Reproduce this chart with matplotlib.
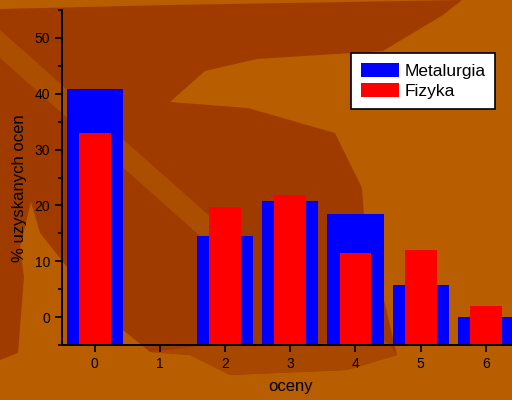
import numpy as np
import matplotlib
matplotlib.use("Agg")
import matplotlib.pyplot as plt
from matplotlib.patches import Polygon

# ---- data ----
grades = [0, 1, 2, 3, 4, 5, 6]
metalurgia = [40.9, np.nan, 14.5, 20.8, 18.4, 5.7, 0.0]
fizyka = [33.0, np.nan, 19.8, 21.8, 11.5, 12.1, 2.0]
y_ticks = [0, 10, 20, 30, 40, 50]
series_names = ["Metalurgia", "Fizyka"]

plt.rcParams['font.family'] = ['Liberation Sans', 'DejaVu Sans']

W, H = 512, 400
BG = "#B85E00"
DARK = "#A03B00"
BAND = "#AB4E00"
LOWDARK = "#A84700"

fig = plt.figure(figsize=(W / 100, H / 100), dpi=100)
fig.patch.set_facecolor(BG)

def px(pts):
    return [(x / W, 1 - y / H) for x, y in pts]

# decorative background shapes (pixel coordinates)
dark_shape = [(0, 9), (170, 5), (462, 0), (443, 15), (383, 51), (257, 59), (205, 71),
              (170, 102), (248, 108), (335, 133), (362, 188), (364, 215), (397, 355),
              (347, 370), (230, 375), (190, 355), (150, 352), (123, 330), (67, 267),
              (40, 233), (31, 202), (20, 247), (24, 277), (18, 353), (0, 360)]
low_shape = [(150, 352), (190, 355), (230, 375), (347, 370), (397, 355),
             (385, 340), (300, 345), (200, 346)]
band_shape = [(0, 30), (232, 236), (218, 252), (0, 58)]
for shape, col in [(dark_shape, DARK), (low_shape, LOWDARK), (band_shape, BAND)]:
    fig.patches.append(Polygon(px(shape), closed=True, transform=fig.transFigure,
                               facecolor=col, edgecolor='none', zorder=-5))

ax = fig.add_axes([62 / W, 1 - 345 / H, (W - 62) / W, (345 - 10) / H])
ax.patch.set_alpha(0)

ymin, ymax = -5, 55
x = np.array(grades, dtype=float)
m = np.array(metalurgia)
f = np.array(fizyka)
b1 = ax.bar(x, m - ymin, bottom=ymin, width=0.86, color="#0000FF", linewidth=0,
            label=series_names[0])
b2 = ax.bar(x, f - ymin, bottom=ymin, width=0.49, color="#FF0000", linewidth=0,
            label=series_names[1])

ax.set_xlim(-0.5, 6.4)
ax.set_ylim(ymin, ymax)
ax.set_xticks(grades)
ax.set_yticks(y_ticks)
ax.set_yticks(np.arange(-5, 56, 10), minor=True)
ax.tick_params(axis='both', which='major', direction='out', length=5, width=1.2,
               labelsize=10, color='black', pad=3.5)
ax.tick_params(axis='y', which='minor', direction='out', length=3, width=1.2)
ax.tick_params(axis='y', pad=3.5)
for s in ['top', 'right']:
    ax.spines[s].set_visible(False)
for s in ['left', 'bottom']:
    ax.spines[s].set_linewidth(1.4)
    ax.spines[s].set_color('black')

ax.set_xlabel("oceny", fontsize=12)
ax.set_ylabel("% uzyskanych ocen", fontsize=12)
ax.xaxis.set_label_coords(0.507, -0.10)
ax.yaxis.set_label_coords(-0.078, 0.469)

leg = fig.legend(handles=[b1, b2], labels=series_names, loc='upper left',
                 bbox_to_anchor=(351 / W, 1 - 53 / H), fontsize=12.5, frameon=True,
                 fancybox=False, shadow=False, framealpha=1, edgecolor='black',
                 handlelength=2.2, handleheight=0.9, handletextpad=0.35,
                 labelspacing=0.25, borderpad=0.55, borderaxespad=0)
leg.get_frame().set_linewidth(1.2)

fig.savefig("out.png", dpi=100, facecolor=BG)
